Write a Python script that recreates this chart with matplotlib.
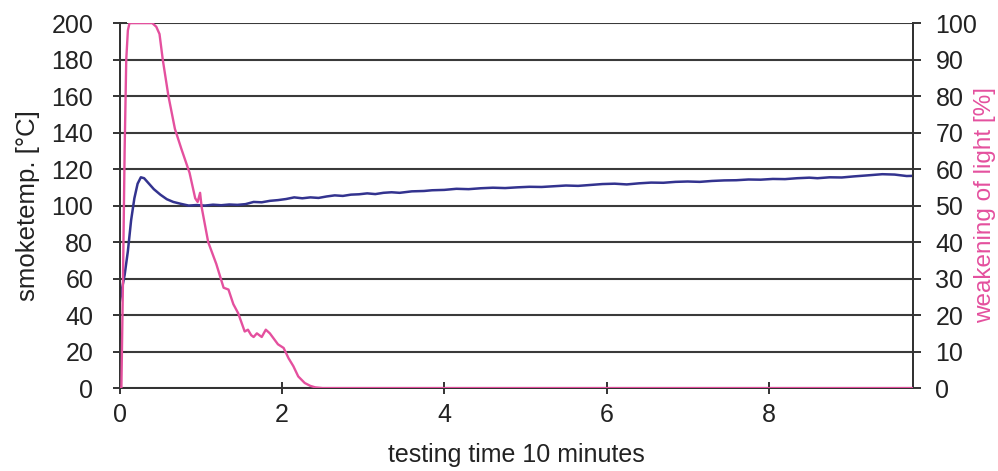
import matplotlib.pyplot as plt

plt.rcParams['font.family'] = ['Liberation Sans', 'DejaVu Sans']

# smoke temperature (left axis)
temp_t = [0.00, 0.03, 0.06, 0.10, 0.14, 0.18, 0.22, 0.26, 0.30, 0.35, 0.42, 0.50,
          0.58, 0.66, 0.75, 0.85, 0.95, 1.05, 1.15, 1.25, 1.35, 1.45, 1.55, 1.65,
          1.75, 1.85, 1.95, 2.05, 2.15, 2.25, 2.35, 2.45, 2.55, 2.65, 2.75, 2.85,
          2.95, 3.05, 3.15, 3.25, 3.35, 3.45, 3.60, 3.75, 3.85, 4.00, 4.15, 4.30,
          4.45, 4.60, 4.75, 4.90, 5.05, 5.20, 5.35, 5.50, 5.65, 5.80, 5.95, 6.10,
          6.25, 6.40, 6.55, 6.70, 6.85, 7.00, 7.15, 7.30, 7.45, 7.60, 7.75, 7.90,
          8.05, 8.20, 8.35, 8.50, 8.60, 8.75, 8.90, 9.05, 9.20, 9.40, 9.55, 9.70, 9.78]
temp_c = [47, 55, 62, 75, 92, 104, 112, 115.5, 115, 112.5, 109, 106,
          103.5, 102, 101, 100, 100.3, 100, 100.5, 100.2, 100.6, 100.4, 100.8, 102,
          101.8, 102.6, 103, 103.6, 104.5, 104, 104.5, 104.2, 105, 105.6, 105.3, 106,
          106.2, 106.7, 106.3, 107, 107.3, 107, 107.8, 108, 108.4, 108.6, 109.2, 109,
          109.5, 109.8, 109.6, 110, 110.3, 110.2, 110.6, 111, 110.8, 111.3, 111.8, 112,
          111.6, 112.2, 112.6, 112.5, 113, 113.2, 113, 113.5, 113.8, 113.9, 114.3, 114.2,
          114.6, 114.5, 115, 115.3, 115, 115.5, 115.4, 116, 116.5, 117.2, 117, 116.2, 116.3]

# weakening of light (right axis)
light_t = [0.00, 0.02, 0.04, 0.06, 0.08, 0.10, 0.12, 0.40, 0.45, 0.49, 0.53, 0.60,
           0.68, 0.76, 0.86, 0.93, 0.96, 0.99, 1.01, 1.09, 1.19, 1.28, 1.34, 1.40,
           1.46, 1.54, 1.58, 1.62, 1.65, 1.69, 1.75, 1.80, 1.85, 1.91, 1.95, 2.02,
           2.08, 2.14, 2.20, 2.28, 2.35, 2.41, 2.50, 9.78]
light_pct = [0, 0, 30, 65, 90, 98, 100, 100, 99, 97, 90, 80,
             71, 65.5, 59, 52, 51, 53.5, 49.5, 40, 34, 27.5, 27, 23,
             20.5, 15.5, 16, 14.5, 14, 15, 14, 16, 15, 13.2, 12, 11,
             8.2, 6, 3.2, 1.4, 0.6, 0.2, 0, 0]

left_ticks = list(range(0, 201, 20))
right_ticks = list(range(0, 101, 10))
x_ticks = [0, 2, 4, 6, 8]

PINK = '#e4509e'

fig = plt.figure(figsize=(9.98, 4.71), dpi=100)
ax = fig.add_axes([0.120, 0.176, 0.795, 0.775])
ax2 = ax.twinx()

ax.plot(temp_t, temp_c, color='#33338f', lw=1.8, zorder=3)
ax2.plot(light_t, light_pct, color=PINK, lw=1.7, zorder=3)

ax.set_xlim(0, 9.78)
ax.set_ylim(0, 200)
ax2.set_ylim(0, 100)
ax.set_xticks(x_ticks)
ax.set_yticks(left_ticks)
ax2.set_yticks(right_ticks)

ax.grid(axis='y', color='#3a3a3a', lw=1.5)
ax.set_axisbelow(True)

for a in (ax, ax2):
    for s in a.spines.values():
        s.set_color('#333333')
        s.set_linewidth(1.4)
    a.spines['top'].set_visible(False)

ax.tick_params(axis='y', direction='inout', length=10, width=1.4, pad=14,
               labelsize=18, color='#333333', labelcolor='#222222')
ax.tick_params(axis='x', direction='inout', length=9, width=1.4, pad=6,
               labelsize=18, color='#333333', labelcolor='#222222')
ax2.tick_params(axis='y', direction='out', length=6, width=1.4, pad=10,
                labelsize=18, color='#333333', labelcolor='#222222')

ax.set_xlabel('testing time 10 minutes', fontsize=18, labelpad=12, color='#222222')
ax.set_ylabel('smoketemp. [°C]', fontsize=18.5, labelpad=8, color='#222222')
# right label sits close to the figure edge, so place it by hand
fig.text(985 / 998, 1 - 205 / 471, 'weakening of light [%]', rotation=90,
         ha='center', va='center', fontsize=17.5, color=PINK)

fig.savefig('out.png', dpi=100)
